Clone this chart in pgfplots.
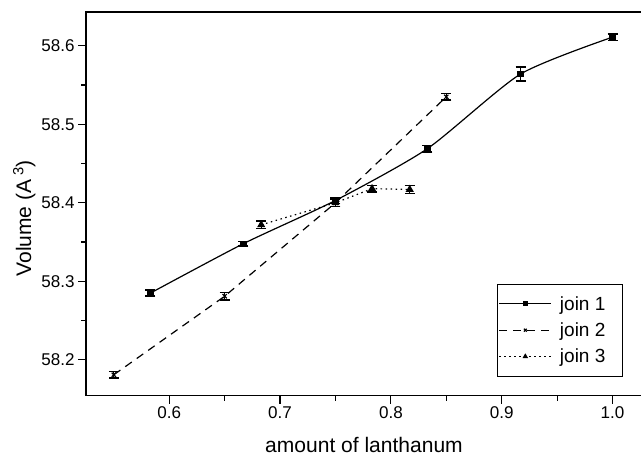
\documentclass[border=0pt]{standalone}
\usepackage{fontspec}
\setmainfont{Liberation Sans}
\usepackage{pgfplots}
\pgfplotsset{compat=1.18}

\begin{document}
\begin{tikzpicture}
\begin{axis}[
    scale only axis,
    width=555pt, height=383pt,
    xmin=0.525, xmax=1.0265,
    ymin=58.1545, ymax=58.643,
    axis line style={line width=1.5pt},
    xtick={0.6,0.7,0.8,0.9,1.0},
    ytick={58.2,58.3,58.4,58.5,58.6},
    minor x tick num=1, minor y tick num=1,
    xtick pos=bottom, ytick pos=left,
    tick align=outside,
    major tick length=8pt, minor tick length=5pt,
    every tick/.style={black, line width=1.2pt},
    scaled x ticks=false, scaled y ticks=false,
    /pgf/number format/assume math mode=true,
    xticklabel style={font=\fontsize{17}{17}\selectfont,
        /pgf/number format/fixed, /pgf/number format/fixed zerofill,
        /pgf/number format/precision=1},
    yticklabel style={font=\fontsize{17}{17}\selectfont,
        /pgf/number format/fixed, /pgf/number format/fixed zerofill,
        /pgf/number format/precision=1},
    xlabel={amount of lanthanum},
    ylabel={Volume (A\,\textsuperscript{3})},
    xlabel style={font=\fontsize{21}{21}\selectfont, at={(axis description cs:0.5,0)}, anchor=base, yshift=-57pt},
    ylabel style={font=\fontsize{21}{21}\selectfont, at={(axis description cs:0,0.462)}, anchor=north, inner sep=0pt, yshift=73pt},
    legend style={at={(axis description cs:1,0)}, anchor=south east,
        xshift=-19pt, yshift=19pt, draw=black, thick,
        inner xsep=1pt, inner ysep=10pt, row sep=7pt,
        nodes={inner sep=2pt},
        /tikz/every odd column/.append style={column sep=6pt},
        font=\fontsize{19}{22}\selectfont},
    legend cell align=left,
    legend image code/.code={
        \draw[mark repeat=2, mark phase=2, mark size=2pt]
            plot coordinates {(0pt,0pt) (26pt,0pt) (52pt,0pt)};},
    error bars/error bar style={line width=1pt, black, solid},
    error bars/error mark options={rotate=90, mark size=5pt, line width=1.5pt, solid},
]
% join 1
\addplot[black, line width=1.2pt, smooth, tension=0.4, mark=square*, mark size=2.5pt,
    mark options={solid},
    error bars/.cd, y dir=both, y explicit]
coordinates {
    (0.583,58.285) +- (0,0.004)
    (0.667,58.348) +- (0,0.003)
    (0.750,58.403) +- (0,0.004)
    (0.833,58.469) +- (0,0.004)
    (0.917,58.564) +- (0,0.009)
    (1.000,58.611) +- (0,0.004)
};
\addlegendentry{join 1\rule{14pt}{0pt}}
% join 2
\addplot[black, line width=1.2pt, dash pattern=on 8pt off 6pt, mark=x, mark size=3pt,
    mark options={solid},
    error bars/.cd, y dir=both, y explicit]
coordinates {
    (0.55,58.181) +- (0,0.004)
    (0.65,58.281) +- (0,0.005)
    (0.75,58.400) +- (0,0.005)
    (0.85,58.535) +- (0,0.004)
};
\addlegendentry{join 2\rule{14pt}{0pt}}
% join 3
\addplot[black, line width=1.2pt, dash pattern=on 1.5pt off 3.5pt, mark=triangle*, mark size=3.5pt,
    mark options={solid},
    error bars/.cd, y dir=both, y explicit]
coordinates {
    (0.683,58.372) +- (0,0.005)
    (0.750,58.400) +- (0,0.005)
    (0.783,58.418) +- (0,0.004)
    (0.817,58.417) +- (0,0.005)
};
\addlegendentry{join 3\rule{14pt}{0pt}}
\coordinate (ll) at (rel axis cs:0,0);
\coordinate (ur) at (rel axis cs:1,1);
\end{axis}
\pgfresetboundingbox
\path ([shift={(-86pt,-60pt)}]ll) rectangle ([shift={(-0.9pt,12pt)}]ur);
\end{tikzpicture}
\end{document}
